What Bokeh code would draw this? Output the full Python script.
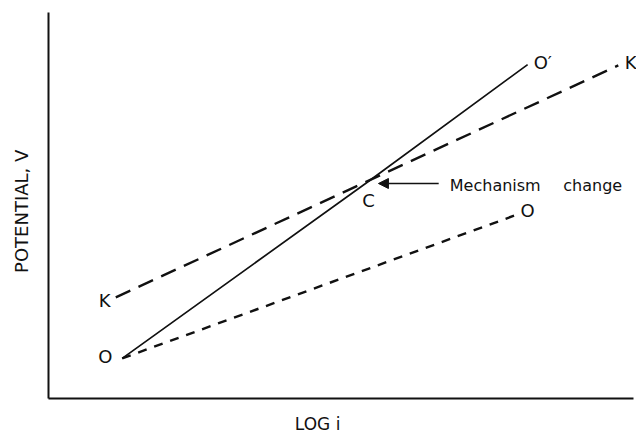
from bokeh.plotting import figure
from bokeh.models import Range1d, Arrow, NormalHead
from bokeh.core.properties import value
from bokeh.embed import file_html
from bokeh.resources import INLINE
import math

# ---- data (log i, potential), arbitrary units ----
solid_x = [1.26, 5.42, 8.19]          # O -> C -> O'
solid_y = [1.04, 5.57, 8.65]
longdash_x = [1.15, 9.74]             # K -> K
longdash_y = [2.62, 8.63]
shortdash_x = [1.26, 8.02]            # O -> O
shortdash_y = [1.04, 4.77]

axis_x_x = [0, 10]
axis_x_y = [0, 0]
axis_y_x = [0, 0]
axis_y_y = [0, 10]

point_labels = ["K", "O", "C", "O\u2032", "K", "O"]
point_lx = [0.96, 0.97, 5.47, 8.45, 9.95, 8.19]
point_ly = [2.54, 1.09, 5.13, 8.70, 8.70, 4.87]

annot_text = ["Mechanism", "change"]
annot_x = [6.86, 8.80]
annot_y = [5.52, 5.52]
arrow_tail = (6.67, 5.57)
arrow_head = (5.64, 5.57)

x_title = "LOG i"
y_title = "POTENTIAL, V"

FONT = value("DejaVu Sans")
INK = "#111111"

p = figure(width=636, height=435, output_backend="svg", toolbar_location=None,
           x_range=Range1d(-0.8205, 10.0513), y_range=Range1d(-0.9585, 10.3109),
           min_border=0, min_border_left=0, min_border_right=0,
           min_border_top=0, min_border_bottom=0)
p.xaxis.visible = False
p.yaxis.visible = False
p.xgrid.visible = False
p.ygrid.visible = False
p.outline_line_color = None
p.background_fill_color = "white"
p.border_fill_color = "white"

# axes
p.line(axis_x_x, axis_x_y, line_color=INK, line_width=2)
p.line(axis_y_x, axis_y_y, line_color=INK, line_width=2)

# curves
p.line(solid_x, solid_y, line_color=INK, line_width=1.7)
p.line(longdash_x, longdash_y, line_color=INK, line_width=2.4, line_dash="16 9")
p.line(shortdash_x, shortdash_y, line_color=INK, line_width=2.4, line_dash="9 8")

# point labels
p.text(point_lx, point_ly, text=point_labels, text_font=FONT, text_font_size="18px",
       text_align="center", text_baseline="middle", text_color=INK)

# annotation
p.text(annot_x, annot_y, text=annot_text, text_font=FONT, text_font_size="16px",
       text_align="left", text_baseline="middle", text_color=INK)
p.add_layout(Arrow(x_start=arrow_tail[0], y_start=arrow_tail[1],
                   x_end=arrow_head[0], y_end=arrow_head[1],
                   line_color=INK, line_width=1.6,
                   end=NormalHead(size=10, fill_color=INK, line_color=INK)))

# axis titles
p.text([4.60], [-0.65], text=[x_title], text_font=FONT, text_font_size="17px",
       text_align="center", text_baseline="middle", text_color=INK)
p.text([-0.46], [4.85], text=[y_title], text_font=FONT, text_font_size="18px",
       text_align="center", text_baseline="middle", text_color=INK, angle=math.pi / 2)

open("out.html", "w").write(file_html(p, INLINE))
